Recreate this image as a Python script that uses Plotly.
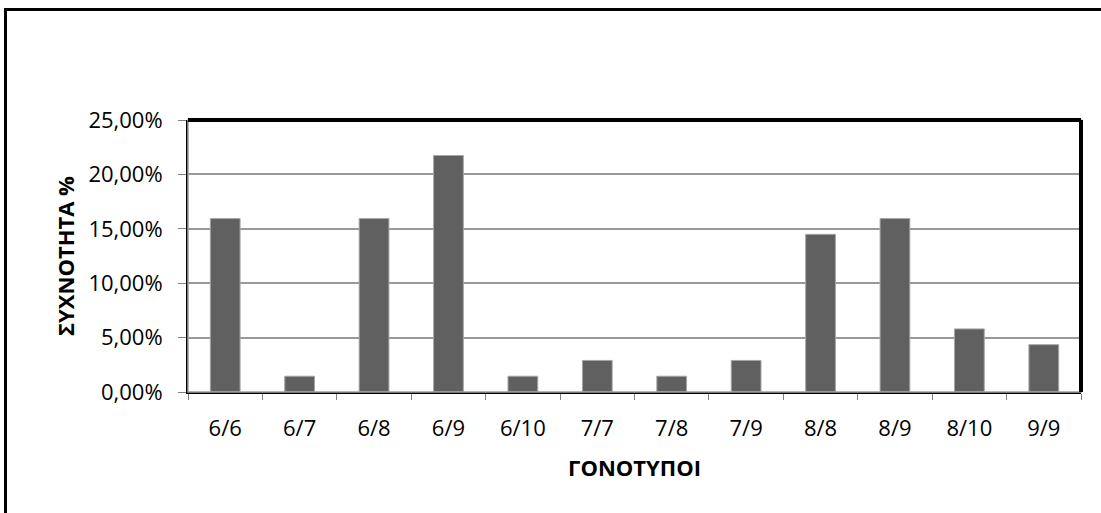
import plotly.graph_objects as go

# Genotype frequencies (%)
genotypes = ["6/6", "6/7", "6/8", "6/9", "6/10", "7/7", "7/8", "7/9", "8/8", "8/9", "8/10", "9/9"]
frequency = [15.94, 1.45, 15.94, 21.74, 1.45, 2.90, 1.45, 2.90, 14.49, 15.94, 5.80, 4.35]
y_ticks = [0, 5, 10, 15, 20, 25]
y_tick_labels = [f"{v:.2f}".replace(".", ",") + "%" for v in y_ticks]

W, H = 1101, 513
L, R, T, B = 188, 20, 120, 121
pw, ph = W - L - R, H - T - B

def px(x):
    return (x - L) / pw

def py(y):
    return 1 - (y - T) / ph

FONT = "Open Sans"

fig = go.Figure(
    go.Bar(
        x=genotypes,
        y=frequency,
        marker=dict(color="#606060", line=dict(color="#a6a6a6", width=1)),
    )
)

fig.update_layout(
    width=W,
    height=H,
    margin=dict(l=L, r=R, t=T, b=B),
    paper_bgcolor="white",
    plot_bgcolor="white",
    bargap=0.6,
    showlegend=False,
    font=dict(family=FONT, size=22, color="black"),
)

fig.update_xaxes(
    type="category",
    showline=True,
    linecolor="black",
    linewidth=2,
    ticks="outside",
    tickson="boundaries",
    ticklen=6,
    tickcolor="#808080",
    tickwidth=1,
    ticklabelstandoff=16,
    tickfont=dict(family=FONT, size=22),
    title=dict(text="<b>ΓΟΝΟΤΥΠΟΙ</b>", font=dict(family=FONT, size=22), standoff=19),
    showgrid=False,
)

fig.update_yaxes(
    range=[0, 25],
    tickvals=y_ticks,
    ticktext=y_tick_labels,
    showline=True,
    linecolor="black",
    linewidth=2,
    ticks="outside",
    ticklen=8,
    tickcolor="#808080",
    tickwidth=1,
    ticklabelstandoff=11,
    tickfont=dict(family=FONT, size=22),
    showgrid=True,
    gridcolor="#999999",
    gridwidth=2,
    zeroline=False,
    title=dict(text="<b>ΣΥΧΝΟΤΗΤΑ %</b>", font=dict(family=FONT, size=22), standoff=8),
)

shapes = [
    # plot area outline with heavier top and right edges
    dict(type="rect", xref="paper", yref="paper", x0=0, y0=0, x1=1, y1=1,
         line=dict(color="#a0a0a0", width=1.5)),
    dict(type="line", xref="paper", yref="paper", x0=0, y0=1, x1=1, y1=1,
         line=dict(color="black", width=4)),
    dict(type="line", xref="paper", yref="paper", x0=1, y0=0, x1=1, y1=1,
         line=dict(color="black", width=4)),
    # outer chart frame
    dict(type="rect", xref="paper", yref="paper",
         x0=px(5.5), y0=py(H + 20), x1=px(W + 20), y1=py(9.5),
         line=dict(color="black", width=3)),
]
fig.update_layout(shapes=shapes)

fig.write_html("out.html")
